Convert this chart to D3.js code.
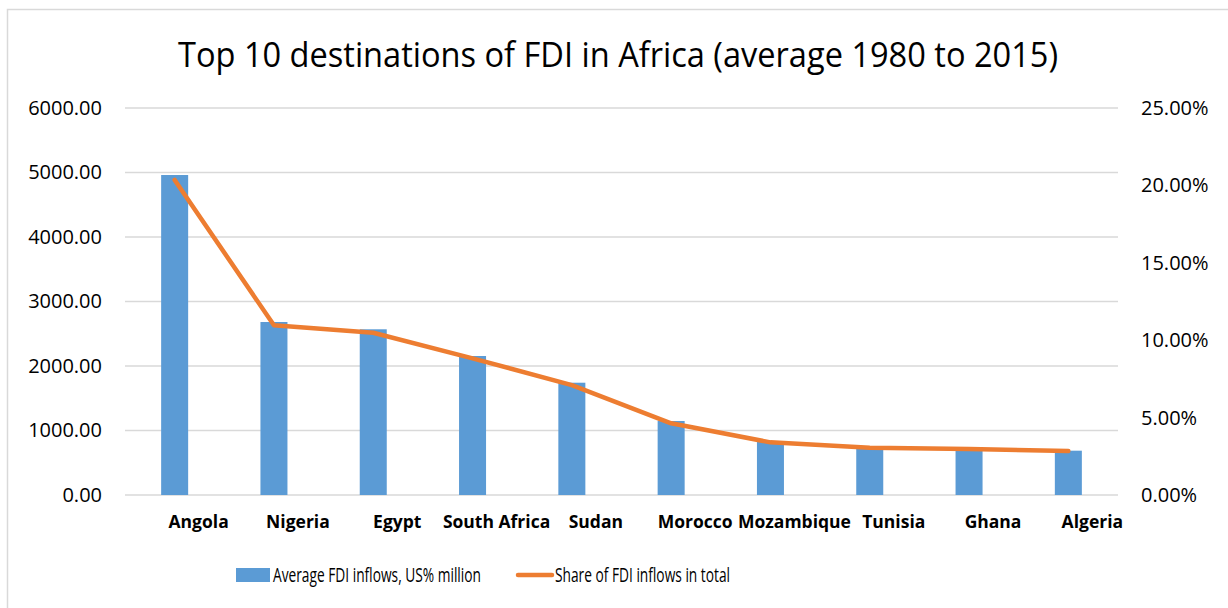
<!DOCTYPE html>
<html lang="en">
<head>
<meta charset="utf-8">
<title>Top 10 destinations of FDI in Africa</title>
<script src="https://cdn.jsdelivr.net/npm/d3@7"></script>
<style>
  body { margin: 0; background: white; }
  svg { display: block; font-family: "Open Sans", "Noto Sans", sans-serif; }
  .grid line { stroke: #d9d9d9; stroke-width: 1.5; }
  .axis text { fill: #000; font-size: 20px; font-family: "Open Sans", "Noto Sans", sans-serif; }
  .cat text { fill: #000; font-size: 17.5px; font-weight: bold; }
</style>
</head>
<body>
<script>
// data
var countries = ["Angola", "Nigeria", "Egypt", "South Africa", "Sudan",
                 "Morocco", "Mozambique", "Tunisia", "Ghana", "Algeria"];
var fdiInflows = [4961, 2682, 2569, 2155, 1741, 1147, 826, 724, 708, 687];
var fdiShare = [0.2035, 0.1096, 0.1048, 0.0883, 0.0710, 0.0463, 0.0340, 0.0306, 0.0297, 0.0284];
var leftTicks = [0, 1000, 2000, 3000, 4000, 5000, 6000];
var rightTicks = [0, 0.05, 0.10, 0.15, 0.20, 0.25];

var width = 1228, height = 608;
var plot = { left: 125, right: 1118, top: 108, bottom: 495 };

var svg = d3.select("body").append("svg")
    .attr("width", width)
    .attr("height", height);

// chart frame (runs off the right and bottom edges in the original)
svg.append("rect")
    .attr("x", 7.5).attr("y", 9.5)
    .attr("width", 1240).attr("height", 620)
    .attr("fill", "white")
    .attr("stroke", "#d9d9d9")
    .attr("stroke-width", 1.5);

var x = d3.scaleBand()
    .domain(countries)
    .range([plot.left, plot.right]);

var yLeft = d3.scaleLinear().domain([0, 6000]).range([plot.bottom, plot.top]);
var yRight = d3.scaleLinear().domain([0, 0.25]).range([plot.bottom, plot.top]);

// gridlines
svg.append("g").attr("class", "grid")
  .selectAll("line")
  .data(leftTicks)
  .enter().append("line")
    .attr("x1", plot.left).attr("x2", plot.right)
    .attr("y1", function(d) { return yLeft(d); })
    .attr("y2", function(d) { return yLeft(d); });

// left axis
var leftAxis = svg.append("g")
    .attr("class", "axis")
    .attr("transform", "translate(" + (plot.left - 23) + ",0)")
    .call(d3.axisLeft(yLeft).tickValues(leftTicks).tickSize(0).tickPadding(0)
        .tickFormat(d3.format(".2f")));
leftAxis.attr("font-family", null).attr("font-size", null);
leftAxis.select(".domain").remove();

// right axis
var rightAxis = svg.append("g")
    .attr("class", "axis")
    .attr("transform", "translate(" + (plot.right + 23) + ",0)")
    .call(d3.axisRight(yRight).tickValues(rightTicks).tickSize(0).tickPadding(0)
        .tickFormat(d3.format(".2%")));
rightAxis.attr("font-family", null).attr("font-size", null);
rightAxis.select(".domain").remove();

// bars
var barW = x.bandwidth() * 0.272;
svg.append("g")
  .selectAll("rect")
  .data(countries)
  .enter().append("rect")
    .attr("fill", "#5b9bd5")
    .attr("x", function(d) { return x(d) + x.bandwidth() / 2 - barW / 2; })
    .attr("y", function(d, i) { return yLeft(fdiInflows[i]); })
    .attr("width", barW)
    .attr("height", function(d, i) { return plot.bottom - yLeft(fdiInflows[i]); });

// share line
var line = d3.line()
    .x(function(d, i) { return x(countries[i]) + x.bandwidth() / 2; })
    .y(function(d) { return yRight(d); });

svg.append("path")
    .datum(fdiShare)
    .attr("d", line)
    .attr("fill", "none")
    .attr("stroke", "#ed7d31")
    .attr("stroke-width", 4.5)
    .attr("stroke-linejoin", "round")
    .attr("stroke-linecap", "round");

// category labels (sit a bit right of the bars in the original)
svg.append("g").attr("class", "cat")
  .selectAll("text")
  .data(countries)
  .enter().append("text")
    .attr("x", function(d) { return x(d) + x.bandwidth() / 2 + 24; })
    .attr("y", 528)
    .attr("text-anchor", "middle")
    .text(function(d) { return d; });

// title
svg.append("text")
    .attr("x", 618)
    .attr("y", 67)
    .attr("text-anchor", "middle")
    .attr("font-size", 34)
    .attr("textLength", 880)
    .attr("lengthAdjust", "spacingAndGlyphs")
    .attr("fill", "#000")
    .text("Top 10 destinations of FDI in Africa (average 1980 to 2015)");

// legend
var legend = svg.append("g").attr("font-size", 20);
legend.append("rect")
    .attr("x", 236).attr("y", 568)
    .attr("width", 34).attr("height", 14)
    .attr("fill", "#5b9bd5");
legend.append("text")
    .attr("x", 273).attr("y", 582)
    .attr("textLength", 208)
    .attr("lengthAdjust", "spacingAndGlyphs")
    .text("Average FDI inflows, US% million");
legend.append("line")
    .attr("x1", 518).attr("x2", 552)
    .attr("y1", 575).attr("y2", 575)
    .attr("stroke", "#ed7d31")
    .attr("stroke-width", 4.5)
    .attr("stroke-linecap", "round");
legend.append("text")
    .attr("x", 555).attr("y", 582)
    .attr("textLength", 175)
    .attr("lengthAdjust", "spacingAndGlyphs")
    .text("Share of FDI inflows in total");
</script>
</body>
</html>
